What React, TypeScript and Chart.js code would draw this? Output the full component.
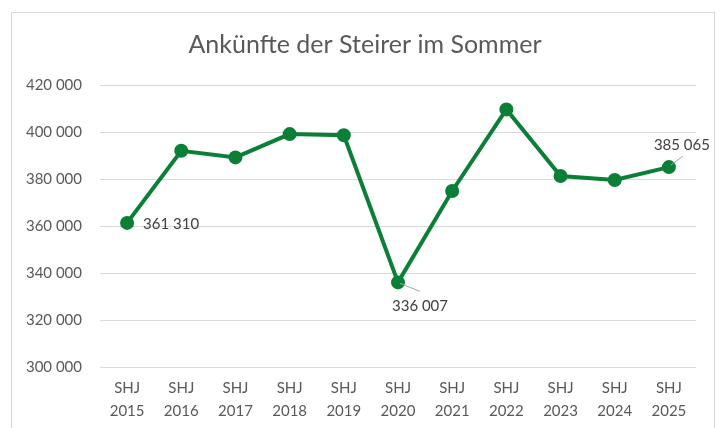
import { useEffect, useRef } from "react";
import { Chart, registerables } from "chart.js";

Chart.register(...registerables);

const chartTitle = "Ankünfte der Steirer im Sommer";
const categories: string[][] = [
  ["SHJ", "2015"], ["SHJ", "2016"], ["SHJ", "2017"], ["SHJ", "2018"], ["SHJ", "2019"],
  ["SHJ", "2020"], ["SHJ", "2021"], ["SHJ", "2022"], ["SHJ", "2023"], ["SHJ", "2024"], ["SHJ", "2025"],
];
const arrivals: number[] = [361310, 392000, 389200, 399100, 398600, 336007, 374900, 409600, 381300, 379600, 385065];
const yMin = 300000;
const yMax = 420000;
const yStep = 20000;
const labelledPoints: number[] = [0, 5, 10];

const FONT = "Lato";
const GREEN = "#0B7F37";

function fmt(v: number): string {
  return String(Math.round(v)).replace(/\B(?=(\d{3})+(?!\d))/g, " ");
}

const framePlugin = {
  id: "frame",
  beforeDraw(chart: any) {
    const ctx = chart.ctx;
    ctx.save();
    ctx.fillStyle = "#ffffff";
    ctx.fillRect(0, 0, chart.width, chart.height);
    ctx.strokeStyle = "#d9d9d9";
    ctx.lineWidth = 1;
    ctx.strokeRect(11.5, 12.5, 703, 430);
    ctx.fillStyle = "#595959";
    ctx.font = `25px ${FONT}`;
    ctx.textAlign = "center";
    ctx.textBaseline = "middle";
    ctx.fillText(chartTitle, 365, 45);
    ctx.restore();
  },
};

const labelPlugin = {
  id: "pointLabels",
  afterDatasetsDraw(chart: any) {
    const ctx = chart.ctx;
    const meta = chart.getDatasetMeta(0);
    ctx.save();
    ctx.font = `15px ${FONT}`;
    ctx.fillStyle = "#404040";
    ctx.textBaseline = "middle";
    labelledPoints.forEach((i, k) => {
      const p = meta.data[i];
      const text = fmt(arrivals[i]);
      if (k === 0) {
        ctx.textAlign = "left";
        ctx.fillText(text, p.x + 16, p.y + 1);
      } else if (k === 1) {
        ctx.strokeStyle = "#a6a6a6";
        ctx.lineWidth = 1;
        ctx.beginPath();
        ctx.moveTo(p.x + 2, p.y + 1);
        ctx.lineTo(p.x + 22, p.y + 9);
        ctx.stroke();
        ctx.textAlign = "center";
        ctx.fillText(text, p.x + 22, p.y + 24);
      } else {
        ctx.strokeStyle = "#a6a6a6";
        ctx.lineWidth = 1;
        ctx.beginPath();
        ctx.moveTo(p.x + 2, p.y - 2);
        ctx.lineTo(p.x + 14, p.y - 11);
        ctx.stroke();
        ctx.textAlign = "center";
        ctx.fillText(text, p.x + 13, p.y - 22);
      }
    });
    ctx.restore();
  },
};

export default function App() {
  const ref = useRef<HTMLCanvasElement | null>(null);
  useEffect(() => {
    if (!ref.current) return;
    const chart = new Chart(ref.current, {
      type: "line",
      data: {
        labels: categories,
        datasets: [
          {
            data: arrivals,
            borderColor: GREEN,
            backgroundColor: GREEN,
            borderWidth: 4,
            pointRadius: 5,
            pointHoverRadius: 5,
            pointBackgroundColor: GREEN,
            pointBorderColor: GREEN,
            tension: 0,
          },
        ],
      },
      options: {
        responsive: false,
        animation: false,
        layout: { padding: { top: 85, right: 31, left: 0, bottom: 0 } },
        plugins: { legend: { display: false }, title: { display: false }, tooltip: { enabled: false } },
        scales: {
          x: {
            offset: true,
            grid: { display: false, drawTicks: false },
            border: { display: false },
            ticks: { color: "#595959", font: { family: FONT, size: 15, lineHeight: 1.5 }, padding: 10, maxRotation: 0, autoSkip: false },
            afterFit(scale: any) { scale.height = 61; },
          },
          y: {
            min: yMin,
            max: yMax,
            grid: { color: "#d9d9d9", lineWidth: 1, drawTicks: false },
            border: { display: false },
            ticks: { stepSize: yStep, color: "#595959", font: { family: FONT, size: 15 }, padding: 18, callback: (v: any) => fmt(Number(v)) },
            afterFit(scale: any) { scale.width = 100; },
          },
        },
      },
      plugins: [framePlugin, labelPlugin],
    });
    return () => chart.destroy();
  }, []);
  return (
    <div style={{ position: "absolute", left: 0, top: 0, width: 727, height: 428 }}>
      <canvas ref={ref} width={727} height={428} style={{ display: "block" }} />
    </div>
  );
}
